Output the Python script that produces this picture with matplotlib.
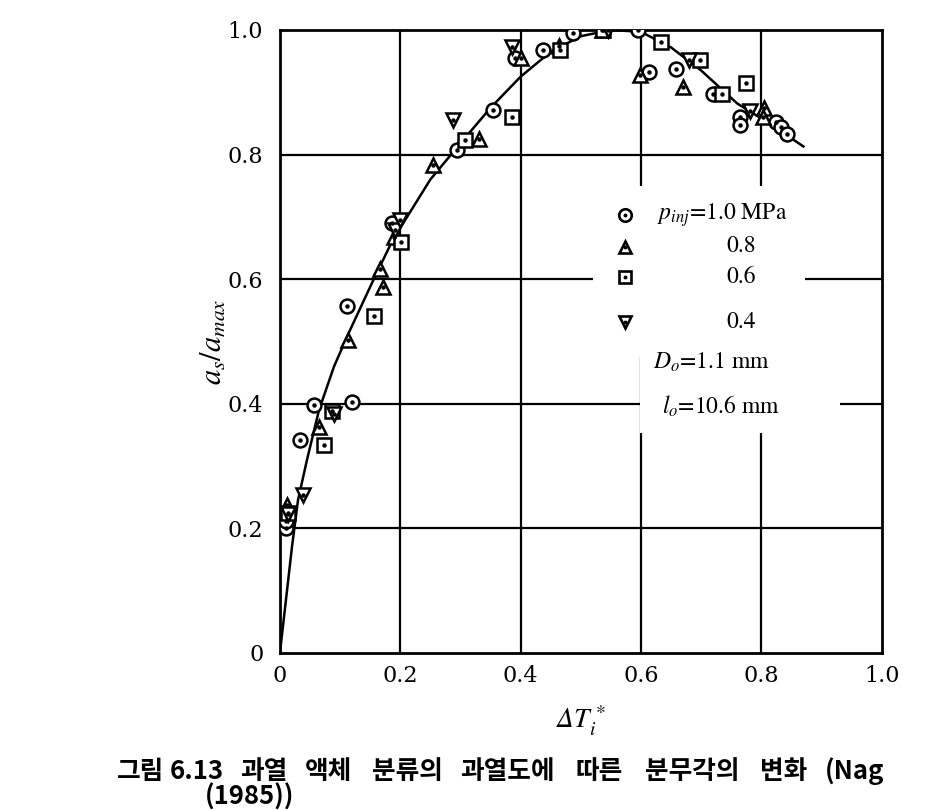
import matplotlib.pyplot as plt
import matplotlib as mpl
from matplotlib.patches import Rectangle

mpl.rcParams['mathtext.fontset'] = 'stix'

# data
curve_x = [0, 0.01, 0.02, 0.03, 0.045, 0.065, 0.09, 0.115, 0.155, 0.19, 0.205,
           0.25, 0.30, 0.35, 0.40, 0.45, 0.50, 0.55, 0.60, 0.65, 0.70, 0.76,
           0.81, 0.87]
curve_y = [0, 0.085, 0.17, 0.245, 0.31, 0.39, 0.46, 0.515, 0.598, 0.668, 0.69,
           0.76, 0.818, 0.875, 0.925, 0.965, 0.99, 1.0, 0.997, 0.972, 0.935,
           0.882, 0.852, 0.813]

p10_x = [0.010, 0.010, 0.033, 0.057, 0.112, 0.120, 0.187, 0.295, 0.354, 0.390,
         0.437, 0.487, 0.595, 0.613, 0.658, 0.719, 0.764, 0.764, 0.825, 0.833,
         0.842]
p10_y = [0.200, 0.212, 0.342, 0.398, 0.557, 0.403, 0.690, 0.808, 0.872, 0.955,
         0.968, 0.995, 1.000, 0.933, 0.938, 0.898, 0.860, 0.848, 0.853, 0.845,
         0.833]

p08_x = [0.012, 0.065, 0.113, 0.166, 0.171, 0.189, 0.255, 0.331, 0.401, 0.463,
         0.535, 0.598, 0.670, 0.805, 0.803]
p08_y = [0.238, 0.362, 0.502, 0.617, 0.587, 0.668, 0.783, 0.825, 0.955, 0.975,
         1.000, 0.928, 0.909, 0.874, 0.861]

p06_x = [0.014, 0.074, 0.087, 0.156, 0.201, 0.307, 0.385, 0.465, 0.537, 0.634,
         0.698, 0.735, 0.775]
p06_y = [0.225, 0.334, 0.388, 0.541, 0.660, 0.823, 0.861, 0.968, 1.000, 0.980,
         0.951, 0.897, 0.915]

p04_x = [0.014, 0.038, 0.090, 0.191, 0.199, 0.287, 0.385, 0.545, 0.680, 0.781]
p04_y = [0.223, 0.254, 0.383, 0.679, 0.695, 0.856, 0.973, 1.000, 0.952, 0.870]

ticks = [0, 0.2, 0.4, 0.6, 0.8, 1.0]
tick_labels = ['0', '0.2', '0.4', '0.6', '0.8', '1.0']

series = [(p10_x, p10_y, 'o', r'$p_{inj}$=1.0 MPa'),
          (p08_x, p08_y, '^', '0.8'),
          (p06_x, p06_y, 's', '0.6'),
          (p04_x, p04_y, 'v', '0.4')]

caption_words = ['그림', '6.13', '과열', '액체', '분류의', '과열도에', '따른',
                 '분무각의', '변화', '(Nag']
caption_x = [117, 170, 240, 305, 372, 460, 575, 645, 760, 825]
caption_line2 = '(1985))'

fig = plt.figure(figsize=(9.3, 8.1), dpi=100)
ax = fig.add_axes([0.301, 0.194, 0.647, 0.769])
ax.set_xlim(0, 1.0)
ax.set_ylim(0, 1.0)

for t in [0.2, 0.4, 0.6, 0.8]:
    ax.axvline(t, color='black', lw=1.6, zorder=1)
    ax.axhline(t, color='black', lw=1.6, zorder=1)

# blank patch behind the legend text (grid lines are broken there)
ax.add_patch(Rectangle((0.52, 0.475), 0.352, 0.275, facecolor='white',
                       edgecolor='none', zorder=2))
ax.add_patch(Rectangle((0.598, 0.353), 0.332, 0.125, facecolor='white',
                       edgecolor='none', zorder=2))

ax.plot(curve_x, curve_y, color='black', lw=1.8, zorder=3)

for xs, ys, m, lab in series:
    ax.plot(xs, ys, ls='none', marker=m, ms=10, mfc='white', mec='black',
            mew=1.8, zorder=4)
    ax.plot(xs, ys, ls='none', marker='o', ms=2.2, color='black', zorder=5)

# legend block
leg_y = [0.703, 0.652, 0.603, 0.531]
for (xs, ys, m, lab), ly in zip(series, leg_y):
    ax.plot([0.574], [ly], ls='none', marker=m, ms=9, mfc='white',
            mec='black', mew=1.9, zorder=6)
    ax.plot([0.574], [ly], ls='none', marker='o', ms=1.8, color='black',
            zorder=7)
    if m == 'o':
        ax.text(0.626, ly, lab, fontsize=17, family='STIXGeneral',
                va='center', ha='left', zorder=7)
    else:
        ax.text(0.766, ly, lab, fontsize=17, family='STIXGeneral',
                va='center', ha='center', zorder=7)
ax.text(0.62, 0.467, r'$D_o$=1.1 mm', fontsize=17, family='STIXGeneral',
        va='center', ha='left', zorder=7)
ax.text(0.635, 0.395, r'$l_o$=10.6 mm', fontsize=17, family='STIXGeneral',
        va='center', ha='left', zorder=7)

ax.set_xticks(ticks)
ax.set_xticklabels(tick_labels, family='DejaVu Serif', fontsize=16)
ax.set_yticks(ticks)
ax.set_yticklabels(tick_labels, family='DejaVu Serif', fontsize=16)
ax.tick_params(axis='x', length=0, pad=9)
ax.tick_params(axis='y', length=0, pad=12)
for sp in ax.spines.values():
    sp.set_linewidth(2)

ax.set_xlabel(r'Δ$T_i^*$', fontsize=20, family='STIXGeneral',
              fontstyle='italic', labelpad=12)
ax.set_ylabel(r'$a_s/a_{max}$', fontsize=22, labelpad=0)

for w, px in zip(caption_words, caption_x):
    fig.text(px / 930, 0.048, w, fontsize=18.5,
             family=['Noto Sans CJK KR', 'DejaVu Sans'], fontweight='bold',
             va='center', ha='left')
fig.text(205 / 930, 0.016, caption_line2, fontsize=18.5,
         family=['Noto Sans CJK KR', 'DejaVu Sans'], fontweight='bold',
         va='center', ha='left')

plt.savefig('out.png', dpi=100)
